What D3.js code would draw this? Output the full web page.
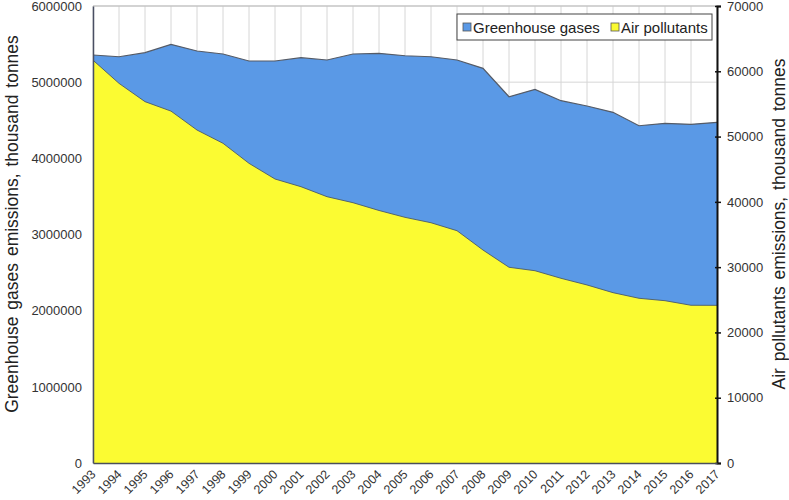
<!DOCTYPE html>
<html>
<head>
<meta charset="utf-8">
<script src="https://cdn.jsdelivr.net/npm/d3@7"></script>
<style>
  body { margin: 0; background: #fff; }
  text { font-family: "Liberation Sans", Arial, sans-serif; }
</style>
</head>
<body>
<svg id="chart" width="789" height="500"></svg>
<script>
// years on the x axis
var years = [1993, 1994, 1995, 1996, 1997, 1998, 1999, 2000, 2001, 2002, 2003, 2004, 2005,
             2006, 2007, 2008, 2009, 2010, 2011, 2012, 2013, 2014, 2015, 2016, 2017];

// greenhouse gases, thousand tonnes (left axis)
var ghg = [5357000, 5334000, 5387000, 5497000, 5409000, 5370000, 5278000, 5278000, 5321000,
           5291000, 5370000, 5379000, 5347000, 5334000, 5291000, 5182000, 4809000, 4906000,
           4757000, 4687000, 4604000, 4428000, 4460000, 4447000, 4473000];

// air pollutants, thousand tonnes (right axis)
var airPol = [61700, 58150, 55350, 53900, 51000, 48970, 45900, 43500, 42320, 40790, 39870,
              38680, 37630, 36800, 35580, 32620, 29980, 29450, 28290, 27270, 26090, 25230,
              24860, 24160, 24150];

var leftTicks = [0, 1000000, 2000000, 3000000, 4000000, 5000000, 6000000];
var rightTicks = [0, 10000, 20000, 30000, 40000, 50000, 60000, 70000];

// plot box (note: "top" is a reserved window prop, so use pTop)
var pLeft = 93, pRight = 717, pTop = 6, pBottom = 463;

var svg = d3.select("#chart");

var x = d3.scalePoint().domain(years).range([pLeft, pRight]);
var yL = d3.scaleLinear().domain([0, 6000000]).range([pBottom, pTop]);
var yR = d3.scaleLinear().domain([0, 70000]).range([pBottom, pTop]);

// grid
var grid = svg.append("g").attr("class", "grid");
grid.selectAll("line.v").data(years).enter().append("line")
  .attr("x1", function (d) { return x(d) }).attr("x2", function (d) { return x(d) })
  .attr("y1", pTop).attr("y2", pBottom)
  .attr("stroke", "#d6d6d6").attr("stroke-width", 1);
grid.selectAll("line.h").data(leftTicks).enter().append("line")
  .attr("x1", pLeft).attr("x2", pRight)
  .attr("y1", function (d) { return yL(d) }).attr("y2", function (d) { return yL(d) })
  .attr("stroke", "#d6d6d6").attr("stroke-width", 1);

// greenhouse gases area
var areaG = d3.area()
  .x(function (d, i) { return x(years[i]) })
  .y0(pBottom)
  .y1(function (d) { return yL(d) });
svg.append("path").datum(ghg)
  .attr("d", areaG)
  .attr("fill", "#5a99e6");
svg.append("path").datum(ghg)
  .attr("d", d3.line().x(function (d, i) { return x(years[i]) }).y(function (d) { return yL(d) }))
  .attr("fill", "none").attr("stroke", "#555b66").attr("stroke-width", 1.2);

// air pollutants area
var areaA = d3.area()
  .x(function (d, i) { return x(years[i]) })
  .y0(pBottom)
  .y1(function (d) { return yR(d) });
svg.append("path").datum(airPol)
  .attr("d", areaA)
  .attr("fill", "#fbfb32");
svg.append("path").datum(airPol)
  .attr("d", d3.line().x(function (d, i) { return x(years[i]) }).y(function (d) { return yR(d) }))
  .attr("fill", "none").attr("stroke", "#4a5a6a").attr("stroke-width", 0.9);

// top border
svg.append("line").attr("x1", pLeft).attr("x2", pRight).attr("y1", pTop).attr("y2", pTop)
  .attr("stroke", "#bbb").attr("stroke-width", 1);

// axes
var axL = svg.append("g").attr("transform", "translate(" + pLeft + ",0)")
  .call(d3.axisLeft(yL).tickValues(leftTicks).tickSize(0).tickPadding(11).tickFormat(d3.format("d")));
axL.select(".domain").attr("stroke", "#4a4f63").attr("stroke-width", 1.5);

var axR = svg.append("g").attr("transform", "translate(" + pRight + ",0)")
  .call(d3.axisRight(yR).tickValues(rightTicks).tickSize(4).tickPadding(6).tickFormat(d3.format("d")));
axR.select(".domain").attr("stroke", "#111").attr("stroke-width", 2);
axR.selectAll(".tick line").attr("x1", -2).attr("stroke", "#111").attr("stroke-width", 1.5);

var axB = svg.append("g").attr("transform", "translate(0," + pBottom + ")")
  .call(d3.axisBottom(x).tickSize(0).tickPadding(0));
axB.select(".domain").attr("stroke", "#4a4f5a").attr("stroke-width", 1.5);
axB.selectAll(".tick text")
  .attr("text-anchor", "end")
  .attr("y", 0)
  .attr("dy", 0)
  .attr("transform", "translate(3,12) rotate(-45)");

svg.selectAll(".tick text").attr("fill", "#333").style("font-size", "13px")
  .style("font-family", "'Liberation Sans', Arial, sans-serif");
axB.selectAll(".tick text").style("font-size", "12.5px");

// axis titles
svg.append("text")
  .attr("transform", "translate(18,224) rotate(-90)")
  .attr("text-anchor", "middle")
  .attr("fill", "#222")
  .style("font-size", "17.5px")
  .style("word-spacing", "2px")
  .text("Greenhouse gases emissions, thousand tonnes");
svg.append("text")
  .attr("transform", "translate(785,224) rotate(-90)")
  .attr("text-anchor", "middle")
  .attr("fill", "#222")
  .style("font-size", "17.5px")
  .style("word-spacing", "2px")
  .text("Air pollutants emissions, thousand tonnes");

// legend
var lg = svg.append("g");
lg.append("rect").attr("x", 457).attr("y", 14).attr("width", 255).attr("height", 26)
  .attr("fill", "#fff").attr("stroke", "#444").attr("stroke-width", 1);
var items = [{ name: "Greenhouse gases", color: "#5a99e6", x: 463 },
             { name: "Air pollutants", color: "#fbfb32", x: 611 }];
items.forEach(function (it) {
  lg.append("rect").attr("x", it.x).attr("y", 23).attr("width", 8).attr("height", 8)
    .attr("fill", it.color).attr("stroke", "#555").attr("stroke-width", 0.8);
  lg.append("text").attr("x", it.x + 10).attr("y", 32.5)
    .attr("fill", "#222").style("font-size", "15px").text(it.name);
});
</script>
</body>
</html>
